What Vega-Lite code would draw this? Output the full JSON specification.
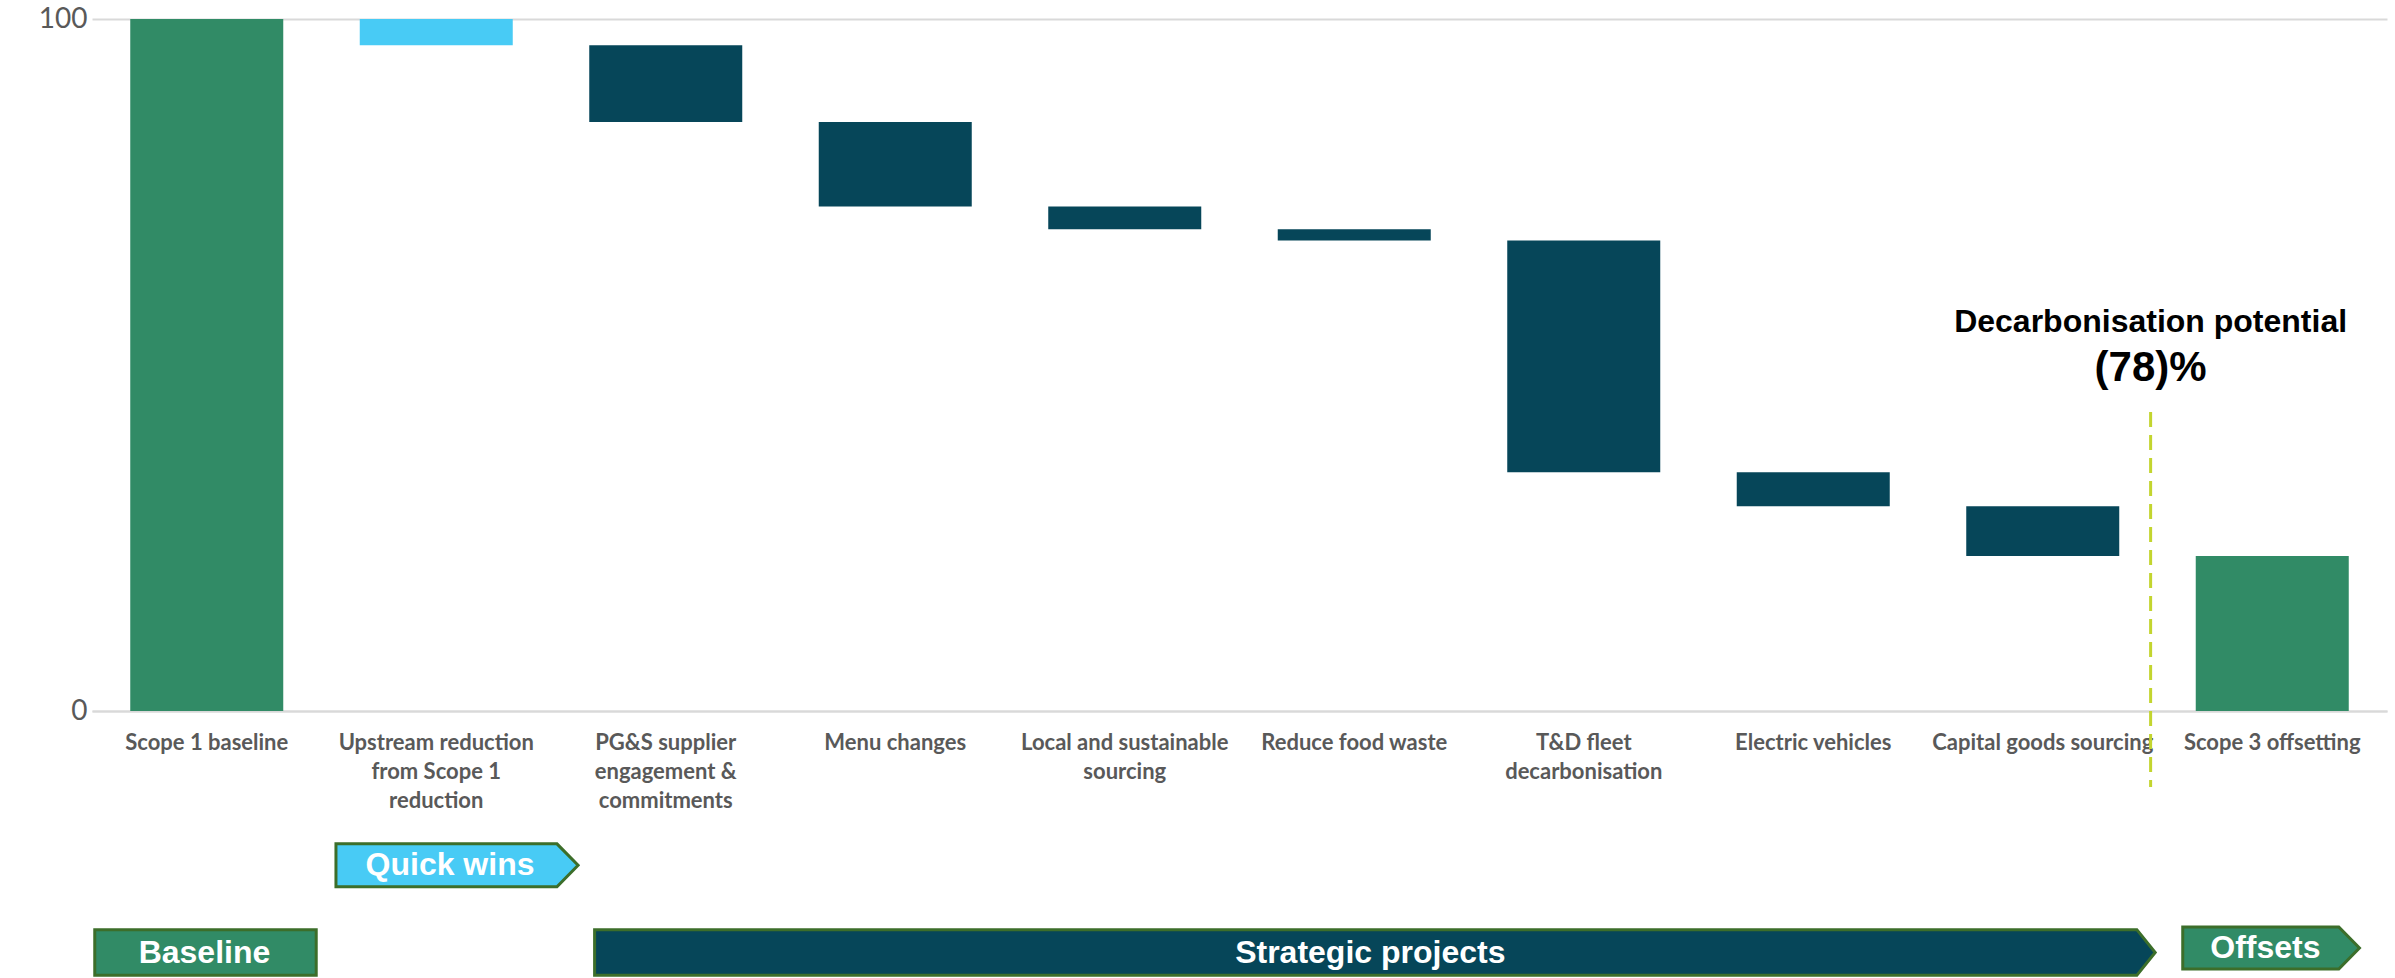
{
  "$schema": "https://vega.github.io/schema/vega-lite/v6.json",
  "autosize": {"type": "none"},
  "padding": {"left": 92, "top": 19, "right": 8, "bottom": 267},
  "width": 2295,
  "height": 692,
  "background": "white",
  "config": {"view": {"stroke": null}},
  "datasets": {
    "steps": [
      {"category": "Scope 1 baseline", "start": 0, "end": 100, "kind": "Baseline"},
      {"category": "Upstream reduction from Scope 1 reduction", "start": 100, "end": 96.2, "kind": "Quick wins"},
      {"category": "PG&S supplier engagement & commitments", "start": 96.2, "end": 85.1, "kind": "Strategic"},
      {"category": "Menu changes", "start": 85.1, "end": 72.9, "kind": "Strategic"},
      {"category": "Local and sustainable sourcing", "start": 72.9, "end": 69.6, "kind": "Strategic"},
      {"category": "Reduce food waste", "start": 69.6, "end": 68.0, "kind": "Strategic"},
      {"category": "T&D fleet decarbonisation", "start": 68.0, "end": 34.5, "kind": "Strategic"},
      {"category": "Electric vehicles", "start": 34.5, "end": 29.6, "kind": "Strategic"},
      {"category": "Capital goods sourcing", "start": 29.6, "end": 22.4, "kind": "Strategic"},
      {"category": "Scope 3 offsetting", "start": 0, "end": 22.4, "kind": "Baseline"}
    ],
    "phases": [
      {"phase": "Baseline", "u": 0.012, "top": -31.6, "bot": -38.2},
      {"phase": "Baseline", "u": 0.977, "top": -31.6, "bot": -38.2},
      {"phase": "Quick wins", "u": 1.063, "top": -19.2, "bot": -25.4},
      {"phase": "Quick wins", "u": 2.026, "top": -19.2, "bot": -25.4},
      {"phase": "Quick wins", "u": 2.118, "top": -22.3, "bot": -22.3},
      {"phase": "Strategic projects", "u": 2.19, "top": -31.6, "bot": -38.2},
      {"phase": "Strategic projects", "u": 8.91, "top": -31.6, "bot": -38.2},
      {"phase": "Strategic projects", "u": 8.99, "top": -34.9, "bot": -34.9},
      {"phase": "Offsets", "u": 9.11, "top": -31.2, "bot": -37.3},
      {"phase": "Offsets", "u": 9.79, "top": -31.2, "bot": -37.3},
      {"phase": "Offsets", "u": 9.88, "top": -34.25, "bot": -34.25}
    ],
    "phaseLabels": [
      {"phase": "Baseline", "u": 0.49, "ty": -34.9},
      {"phase": "Quick wins", "u": 1.56, "ty": -22.3},
      {"phase": "Strategic projects", "u": 5.57, "ty": -34.9},
      {"phase": "Offsets", "u": 9.47, "ty": -34.25}
    ],
    "divider": [
      {"u": 8.97, "ya": 43.2, "yb": -11.0}
    ],
    "note": [
      {"line": "Decarbonisation potential", "u": 8.97, "ty": 56.2, "size": "small"},
      {"line": "(78)%", "u": 8.97, "ty": 49.6, "size": "large"}
    ]
  },
  "resolve": {
    "scale": {"x": "independent", "color": "independent", "size": "independent"},
    "axis": {"x": "independent", "y": "independent"}
  },
  "layer": [
    {
      "data": {"name": "steps"},
      "mark": {"type": "bar"},
      "encoding": {
        "x": {
          "field": "category", "type": "nominal", "sort": null,
          "scale": {"paddingInner": 0.33333, "paddingOuter": 0.166667},
          "axis": {
            "title": null, "ticks": false, "domain": true, "domainColor": "#D9D9D9", "domainWidth": 2,
            "labelAngle": 0, "labelFont": "Lato", "labelFontWeight": "bold", "labelFontSize": 22,
            "labelColor": "#595959", "labelLineHeight": 29, "labelPadding": 21, "labelLimit": 0,
            "labelExpr": "datum.value == 'Upstream reduction from Scope 1 reduction' ? ['Upstream reduction', 'from Scope 1', 'reduction'] : datum.value == 'PG&S supplier engagement & commitments' ? ['PG&S supplier', 'engagement &', 'commitments'] : datum.value == 'Local and sustainable sourcing' ? ['Local and sustainable', 'sourcing'] : datum.value == 'T&D fleet decarbonisation' ? ['T&D fleet', 'decarbonisation'] : datum.value"
          }
        },
        "y": {
          "field": "start", "type": "quantitative",
          "scale": {"domain": [0, 100], "nice": false, "zero": false},
          "axis": {
            "title": null, "values": [0, 100], "domain": false, "ticks": false,
            "grid": true, "gridColor": "#D9D9D9", "gridWidth": 2,
            "labelFont": "Lato", "labelFontSize": 28, "labelColor": "#595959", "labelPadding": 5
          }
        },
        "y2": {"field": "end"},
        "color": {
          "field": "kind", "type": "nominal", "legend": null,
          "scale": {"domain": ["Baseline", "Quick wins", "Strategic"], "range": ["#318B66", "#48CBF5", "#064659"]}
        }
      }
    },
    {
      "data": {"name": "phases"},
      "mark": {"type": "area", "stroke": "#3C6E2A", "strokeWidth": 3, "opacity": 1},
      "encoding": {
        "x": {"field": "u", "type": "quantitative", "scale": {"domain": [0, 10], "nice": false, "zero": false}, "axis": null},
        "y": {"field": "top", "type": "quantitative", "scale": {"domain": [0, 100], "nice": false, "zero": false}, "axis": null},
        "y2": {"field": "bot"},
        "detail": {"field": "phase"},
        "color": {
          "field": "phase", "type": "nominal", "legend": null,
          "scale": {"domain": ["Baseline", "Quick wins", "Strategic projects", "Offsets"], "range": ["#318B66", "#48CBF5", "#064659", "#318B66"]}
        }
      }
    },
    {
      "data": {"name": "phaseLabels"},
      "mark": {"type": "text", "font": "Liberation Sans", "fontWeight": "bold", "fontSize": 32, "color": "white", "align": "center", "baseline": "middle"},
      "encoding": {
        "x": {"field": "u", "type": "quantitative", "scale": {"domain": [0, 10], "nice": false, "zero": false}, "axis": null},
        "y": {"field": "ty", "type": "quantitative", "scale": {"domain": [0, 100], "nice": false, "zero": false}, "axis": null},
        "text": {"field": "phase"}
      }
    },
    {
      "data": {"name": "divider"},
      "mark": {"type": "rule", "color": "#C3D52F", "strokeWidth": 3, "strokeDash": [15, 8]},
      "encoding": {
        "x": {"field": "u", "type": "quantitative", "scale": {"domain": [0, 10], "nice": false, "zero": false}, "axis": null},
        "y": {"field": "ya", "type": "quantitative", "scale": {"domain": [0, 100], "nice": false, "zero": false}, "axis": null},
        "y2": {"field": "yb"}
      }
    },
    {
      "data": {"name": "note"},
      "mark": {"type": "text", "font": "Liberation Sans", "fontWeight": "bold", "color": "black", "align": "center", "baseline": "middle"},
      "encoding": {
        "x": {"field": "u", "type": "quantitative", "scale": {"domain": [0, 10], "nice": false, "zero": false}, "axis": null},
        "y": {"field": "ty", "type": "quantitative", "scale": {"domain": [0, 100], "nice": false, "zero": false}, "axis": null},
        "text": {"field": "line"},
        "size": {"field": "size", "type": "nominal", "legend": null, "scale": {"domain": ["small", "large"], "range": [32, 42]}}
      }
    }
  ]
}
